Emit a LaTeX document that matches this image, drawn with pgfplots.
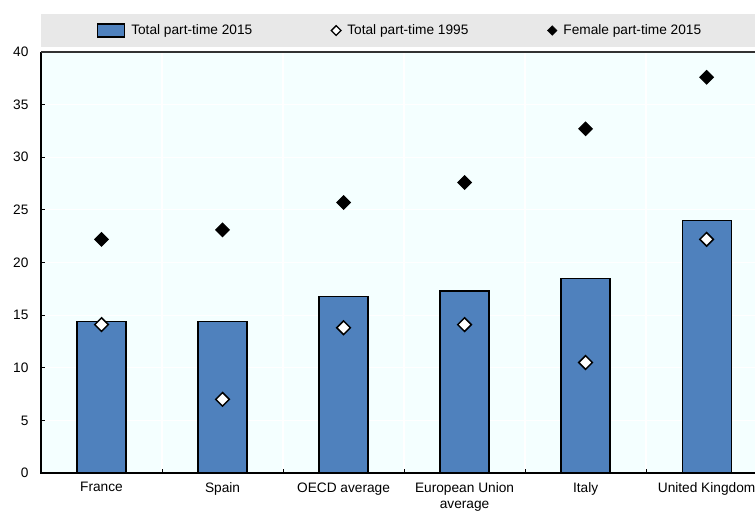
\documentclass[border=0pt]{standalone}
\usepackage{fontspec}
\setmainfont{Liberation Sans}
\usepackage{pgfplots}
\pgfplotsset{compat=1.18}

\definecolor{barblue}{RGB}{79,129,189}
\definecolor{plotbg}{RGB}{244,255,255}
\definecolor{legbg}{RGB}{232,232,232}
\definecolor{topline}{RGB}{50,50,50}

\begin{document}
\begin{tikzpicture}[font=\fontsize{13.7bp}{16.5bp}\selectfont]
\clip (-41bp,-38bp) rectangle (714bp,473bp);
% legend band
\fill[legbg] (0bp,426bp) rectangle (714bp,459bp);
\begin{axis}[
    at={(0,0)}, anchor=south west,
    scale only axis,
    width=714bp, height=421bp,
    xmin=-0.5, xmax=5.4,
    ymin=0, ymax=40,
    ytick={0,5,...,40},
    xtick={0.5,1.5,...,4.5},
    xticklabels={,,,,},
    extra x ticks={0,1,2,3,4,5},
    extra x tick labels={France, Spain, OECD average, {European Union\\average}, Italy, United Kingdom},
    extra x tick style={grid=none, tickwidth=0pt},
    xticklabel style={align=center, yshift=-6bp},
    yticklabel style={xshift=-9bp},
    xtick pos=bottom, ytick pos=left,
    /pgf/number format/assume math mode=true,
    tick align=inside,
    major tick length=4bp,
    tick style={black, line width=1bp},
    grid=major,
    major grid style={white, line width=1.2bp},
    axis line style={draw=none},
    axis background/.style={fill=plotbg},
    clip=false,
    legend columns=3,
    legend style={at={(0.503,1.051)}, anchor=center, draw=none, fill=none,
        /tikz/every even column/.append style={column sep=77bp}},
]
\addplot[ybar, bar width=49bp, bar shift=0pt, fill=barblue, draw=black, line width=1.2bp,
    legend image code/.code={\draw[fill=barblue, draw=black, line width=1.2bp] (0bp,-6.5bp) rectangle (27bp,6.5bp); \path (31bp,0bp);}]
    coordinates {(0,14.4) (1,14.4) (2,16.8) (3,17.3) (4,18.5) (5,24.0)};
\addlegendentry{Total part-time 2015}
\addplot[only marks, mark=square*, mark size=4.8bp, mark options={rotate=45, fill=white, draw=black, line width=1.5bp},
    legend image code/.code={\draw[mark=square*, mark size=3.4bp, mark options={rotate=45, fill=white, draw=black, line width=1.3bp}] plot coordinates {(5bp,0bp)}; \path (14bp,0bp);}]
    coordinates {(0,14.1) (1,7.0) (2,13.8) (3,14.1) (4,10.5) (5,22.2)};
\addlegendentry{Total part-time 1995}
\addplot[only marks, mark=square*, mark size=4.8bp, mark options={rotate=45, fill=black, draw=black, line width=1bp},
    legend image code/.code={\draw[mark=square*, mark size=3.4bp, mark options={rotate=45, fill=black, draw=black}] plot coordinates {(5bp,0bp)}; \path (14bp,0bp);}]
    coordinates {(0,22.2) (1,23.1) (2,25.7) (3,27.6) (4,32.7) (5,37.6)};
\addlegendentry{Female part-time 2015}
\draw[black, line width=2bp] (rel axis cs:0,1) -- (rel axis cs:0,0) -- (rel axis cs:1,0);
\draw[topline, line width=2bp] (rel axis cs:0,1) -- (rel axis cs:1,1);
\end{axis}
\end{tikzpicture}
\end{document}
